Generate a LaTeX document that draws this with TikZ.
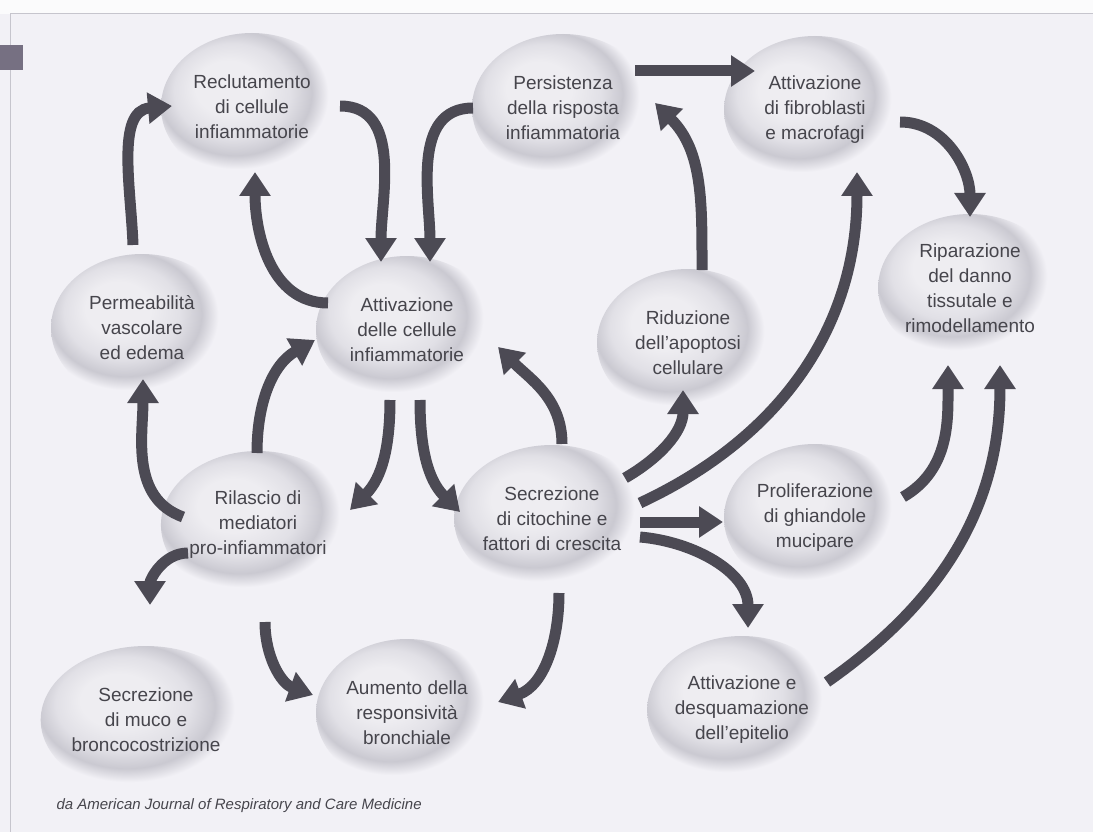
\documentclass[tikz,border=0pt]{standalone}
\usepackage{fontspec}
\setmainfont{Liberation Sans}
\usetikzlibrary{shapes,arrows.meta,positioning,calc}

\definecolor{bgc}{RGB}{242,241,246}
\definecolor{bubin}{RGB}{238,237,241}
\definecolor{bubmid}{RGB}{225,224,230}
\definecolor{bubout}{RGB}{202,201,209}
\definecolor{arrowc}{RGB}{76,74,84}
\definecolor{textc}{RGB}{70,69,76}
\definecolor{framec}{RGB}{198,197,205}
\definecolor{tabc}{RGB}{118,112,130}

\pgfdeclareradialshading{bubbleshade}{\pgfpoint{-8bp}{8bp}}{%
  color(0bp)=(bubin); color(9bp)=(bubin); color(16bp)=(bubmid);
  color(21bp)=(bubout); color(25bp)=(bgc); color(50bp)=(bgc)}

\begin{document}
\begin{tikzpicture}[
    x=1pt, y=1pt,
    bubble/.style={ellipse, minimum width=182pt, minimum height=148pt, inner sep=0pt, shading=bubbleshade, align=center, text=textc, font=\fontsize{19}{25}\selectfont},
    source/.style={anchor=west, text=textc, font=\itshape\fontsize{15}{18}\selectfont},
    arrow/.style={-{Triangle[length=24pt,width=30pt]}, line width=11pt, draw=arrowc}
]

% ============ SFONDO ============
\useasboundingbox (0,0) rectangle (1093,-832);
\fill[bgc] (0,0) rectangle (1093,-832);
\fill[white!70!bgc] (0,0) rectangle (1093,-14);
\draw[framec, line width=1pt] (10,-832) -- (10,-14) -- (1093,-14);
\fill[tabc] (0,-45) rectangle (23,-70);

% ============ RIGA ALTA ============
\node[bubble] (recl) at (252,-107) {Reclutamento\\di cellule\\infiammatorie};
\node[bubble] (pers) at (563,-108) {Persistenza\\della risposta\\infiammatoria};
\node[bubble] (fibr) at (815,-110) {Attivazione\\di fibroblasti\\e macrofagi};

% ============ RIGA CENTRALE ============
\node[bubble] (perm) at (142,-328) {Permeabilità\\vascolare\\ed edema};
\node[bubble] (attc) at (407,-330) {Attivazione\\delle cellule\\infiammatorie};
\node[bubble] (ridu) at (688,-343) {Riduzione\\dell'apoptosi\\cellulare};
\node[bubble] (ripa) at (970,-288) {Riparazione\\del danno\\tissutale e\\rimodellamento};

\node[bubble] (rila) at (258,-525) {Rilascio di\\mediatori\\pro-infiammatori};
\node[bubble] (secc) at (552,-519) {Secrezione\\di citochine e\\fattori di crescita};
\node[bubble] (prol) at (815,-518) {Proliferazione\\di ghiandole\\mucipare};

% ============ RIGA BASSA ============
\node[bubble] (muco) at (146,-720) {Secrezione\\di muco e\\broncocostrizione};
\node[bubble] (aume) at (407,-713) {Aumento della\\responsività\\bronchiale};
\node[bubble] (epit) at (742,-710) {Attivazione e\\desquamazione\\dell'epitelio};

\node[source] (fonte) at (53,-806) {da American Journal of Respiratory and Care Medicine};

% ============ FRECCE ============
% Ciclo infiammatorio
\draw[arrow] ([shift={(-9,83)}]perm.center) to[out=92,in=185] ([shift={(-80,1)}]recl.center);
\draw[arrow] ([shift={(88,1)}]recl.center) to[out=0,in=90] ([shift={(-26,68)}]attc.center);
\draw[arrow] ([shift={(-79,27)}]attc.center) to[out=180,in=-90] ([shift={(3,-65)}]recl.center);
\draw[arrow] ([shift={(-90,0)}]pers.center) to[out=180,in=90] ([shift={(23,68)}]attc.center);
\draw[arrow] ([shift={(72,37)}]pers.center) -- ([shift={(-60,39)}]fibr.center);
\draw[arrow] ([shift={(14,73)}]ridu.center) to[out=90,in=-45] ([shift={(92,5)}]pers.center);
\draw[arrow] ([shift={(85,-12)}]fibr.center) to[out=0,in=90] ([shift={(0,71)}]ripa.center);

% Mediatori
\draw[arrow] ([shift={(-75,8)}]rila.center) to[out=160,in=-90] ([shift={(1,-51)}]perm.center);
\draw[arrow] ([shift={(-1,72)}]rila.center) to[out=90,in=-150] ([shift={(-92,-10)}]attc.center);
\draw[arrow] ([shift={(-17,-70)}]attc.center) to[out=-90,in=45] ([shift={(92,15)}]rila.center);
\draw[arrow] ([shift={(13,-70)}]attc.center) to[out=-90,in=135] ([shift={(-92,7)}]secc.center);
\draw[arrow] ([shift={(10,75)}]secc.center) to[out=90,in=-45] ([shift={(91,-17)}]attc.center);
\draw[arrow] ([shift={(-70,-28)}]rila.center) to[out=180,in=90] ([shift={(4,115)}]muco.center);
\draw[arrow] ([shift={(7,-97)}]rila.center) to[out=-90,in=160] ([shift={(-94,18)}]aume.center);

% Citochine e fattori di crescita
\draw[arrow] ([shift={(73,41)}]secc.center) to[out=30,in=-90] ([shift={(-5,-47)}]ridu.center);
\draw[arrow] ([shift={(88,16)}]secc.center) to[out=25,in=-90] ([shift={(42,-62)}]fibr.center);
\draw[arrow] ([shift={(88,-3)}]secc.center) -- ([shift={(-92,-4)}]prol.center);
\draw[arrow] ([shift={(88,-18)}]secc.center) to[out=-5,in=90] ([shift={(6,82)}]epit.center);
\draw[arrow] ([shift={(7,-74)}]secc.center) to[out=-90,in=20] ([shift={(91,11)}]aume.center);

% Riparazione
\draw[arrow] ([shift={(88,21)}]prol.center) to[out=30,in=-90] ([shift={(-22,-77)}]ripa.center);
\draw[arrow] ([shift={(85,28)}]epit.center) to[out=35,in=-90] ([shift={(30,-77)}]ripa.center);

\end{tikzpicture}
\end{document}
